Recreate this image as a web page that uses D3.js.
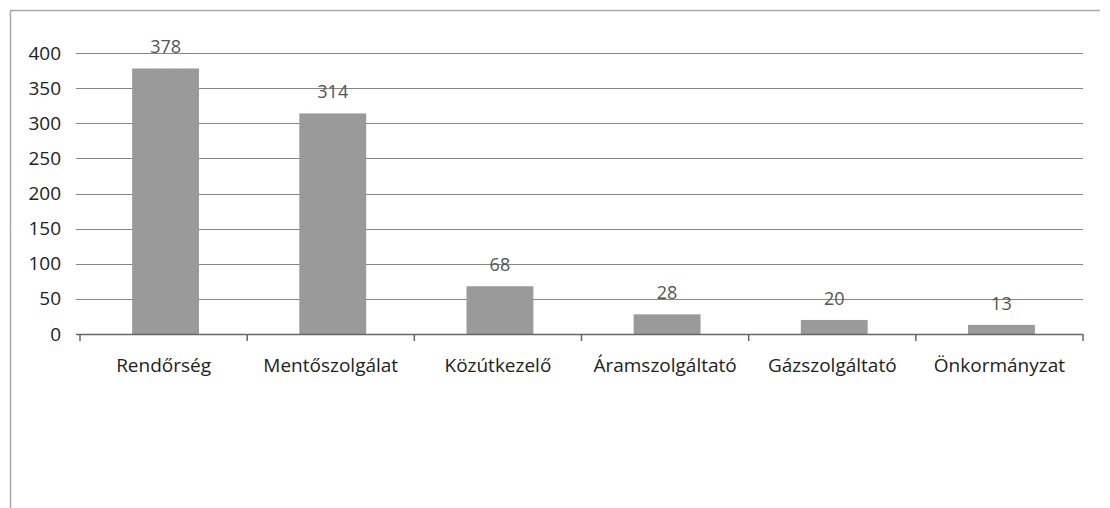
<!DOCTYPE html>
<html><head><meta charset="utf-8">
<script src="https://cdn.jsdelivr.net/npm/d3@7"></script>
<style>body{margin:0;background:#fff}svg{display:block}text{font-family:"Open Sans",sans-serif}</style>
</head><body>
<svg id="c" width="1110" height="508"></svg>
<script>
const categories = ["Rendőrség","Mentőszolgálat","Közútkezelő","Áramszolgáltató","Gázszolgáltató","Önkormányzat"];
const values = [378,314,68,28,20,13];
const yTicks = [0,50,100,150,200,250,300,350,400];

const svg = d3.select("#c");
const m = {left:80, right:1083, top:53, bottom:334};

// outer frame
svg.append("line").attr("x1",10).attr("x2",1100).attr("y1",10.5).attr("y2",10.5).attr("stroke","#aaa").attr("stroke-width",1.5);
svg.append("line").attr("x1",10.5).attr("x2",10.5).attr("y1",10).attr("y2",508).attr("stroke","#aaa").attr("stroke-width",1.5);

const x = d3.scaleBand().domain(categories).range([m.left, m.right]).paddingInner(0.6).paddingOuter(0.3);
const y = d3.scaleLinear().domain([0,400]).range([m.bottom, m.top]);

// gridlines
svg.append("g").selectAll("line").data(yTicks.filter(d=>d>0)).join("line")
  .attr("x1",m.left-4).attr("x2",m.right).attr("y1",d=>Math.round(y(d))+0.5).attr("y2",d=>Math.round(y(d))+0.5)
  .attr("stroke","#858585").attr("stroke-width",1.2);

// bars
svg.append("g").selectAll("rect").data(values).join("rect")
  .attr("x",(d,i)=>x(categories[i])+2).attr("width",x.bandwidth())
  .attr("y",d=>y(d)).attr("height",d=>y(0)-y(d)).attr("fill","#9a9a9a");

// value labels
svg.append("g").selectAll("text").data(values).join("text")
  .attr("x",(d,i)=>x(categories[i])+2+x.bandwidth()/2).attr("y",d=>y(d)-15)
  .attr("text-anchor","middle").attr("font-size",18).attr("fill","#555").text(d=>d);

// y axis labels
const yAxis = d3.axisLeft(y).tickValues(yTicks).tickSize(0).tickPadding(0);
const ya = svg.append("g").attr("transform",`translate(${m.left-19},0)`).call(yAxis);
ya.select(".domain").remove();
ya.selectAll("text").attr("font-size",19).attr("fill","#222").style("font-family","'Open Sans',sans-serif");

// x axis
const xb = d3.scaleBand().domain(categories).range([m.left, m.right]);
const xAxis = d3.axisBottom(xb).tickSize(0).tickPadding(25);
const xa = svg.append("g").attr("transform",`translate(0,${m.bottom})`).call(xAxis);
xa.select(".domain").attr("stroke","#666").attr("stroke-width",1.5).attr("d",`M${m.left-4},0.5H${m.right}`);
xa.selectAll("text").attr("font-size",19).attr("fill","#222").style("font-family","'Open Sans',sans-serif");
// boundary ticks
const bounds = categories.map(c=>xb(c)).concat([m.right]);
xa.append("g").selectAll("line").data(bounds).join("line")
  .attr("x1",d=>d).attr("x2",d=>d).attr("y1",0).attr("y2",7).attr("stroke","#666").attr("stroke-width",1.5);
</script>
</body></html>
